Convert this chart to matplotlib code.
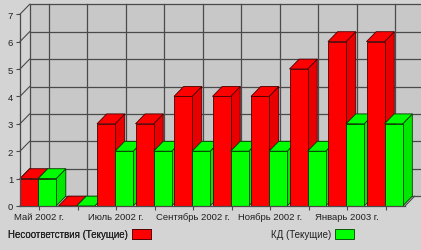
import matplotlib
matplotlib.use("Agg")
import matplotlib.pyplot as plt
from matplotlib.patches import Polygon, Rectangle, Patch

# data
months = ["Май 2002 г.", "Июнь 2002 г.", "Июль 2002 г.", "Август 2002 г.",
          "Сентябрь 2002 г.", "Октябрь 2002 г.", "Ноябрь 2002 г.",
          "Декабрь 2002 г.", "Январь 2003 г.", "Февраль 2003 г."]
nesootv = [1, 0, 3, 3, 4, 4, 4, 5, 6, 6]
kd = [1, 0, 2, 2, 2, 2, 2, 2, 3, 3]
series_names = ["Несоответствия (Текущие)", "КД (Текущие)"]

RED, RED_SIDE, RED_EDGE = "#ff0000", "#e80000", "#4a0000"
GREEN, GREEN_SIDE, GREEN_EDGE = "#00ff00", "#00e800", "#003c00"
BG = "#d4d4d4"
WALL = "#c8c8c8"
GRID = "#4a4a4a"

plt.rcParams['font.family'] = ['Liberation Sans', 'DejaVu Sans']

W, H = 421, 251
fig = plt.figure(figsize=(W / 100, H / 100), dpi=100, facecolor=BG)

# pixel layout of the plotting box
px_left, px_right, px_floor = 20, 405, 207
px_per_x = (px_right - px_left) / len(months)
px_per_y = 27.4
xmax = -0.5 + (W - px_left) / px_per_x
ymax = px_floor / px_per_y
ax = fig.add_axes([px_left / W, (H - px_floor) / H,
                   (W - px_left) / W, px_floor / H])
ax.set_xlim(-0.5, xmax)
ax.set_ylim(0, ymax)
ax.set_facecolor(BG)

dx, dy = 0.25, 0.36   # depth offset of the 3d look
n = len(months)
top = 7

# floor and back wall
ax.add_patch(Polygon([(-0.5, 0), (n - 0.5, 0), (n - 0.5 + dx, dy), (-0.5 + dx, dy)],
                     closed=True, facecolor=WALL, edgecolor="none", zorder=0))
ax.add_patch(Rectangle((-0.5 + dx, dy), xmax + 0.5 - dx, top, facecolor=WALL,
                       edgecolor="none", zorder=0))
for k in range(top + 1):
    ax.plot([-0.5 + dx, xmax], [k + dy, k + dy], color=GRID, lw=0.9, zorder=1)
    ax.plot([-0.5, -0.5 + dx], [k, k + dy], color=GRID, lw=0.8, zorder=1, clip_on=False)
for i in range(n):
    ax.plot([i + dx, i + dx], [dy, top + dy], color=GRID, lw=0.9, zorder=1)
ax.plot([-0.5 + dx, -0.5 + dx], [dy, top + dy], color=GRID, lw=0.9, zorder=1)
ax.plot([n - 0.5, n - 0.5 + dx], [0, dy], color=GRID, lw=0.8, zorder=1)


def bar3d(x0, w, h, face, side, edge, z):
    lw = 0.6
    ax.add_patch(Polygon([(x0 + w, 0), (x0 + w + dx, dy), (x0 + w + dx, h + dy), (x0 + w, h)],
                         closed=True, facecolor=side, edgecolor=edge, lw=lw, zorder=z))
    ax.add_patch(Polygon([(x0, h), (x0 + w, h), (x0 + w + dx, h + dy), (x0 + dx, h + dy)],
                         closed=True, facecolor=face, edgecolor=edge, lw=lw, zorder=z))
    if h > 0:
        ax.add_patch(Rectangle((x0, 0), w, h, facecolor=face, edgecolor=edge,
                               lw=lw, zorder=z))


bw = 0.47
z = 2
for i in range(n):
    bar3d(i - 0.5, bw, nesootv[i], RED, RED_SIDE, RED_EDGE, z)
    z += 1
    bar3d(i - 0.03, bw, kd[i], GREEN, GREEN_SIDE, GREEN_EDGE, z)
    z += 1

# axes, ticks, labels
for s in ["top", "right"]:
    ax.spines[s].set_visible(False)
ax.spines["left"].set_bounds(0, top)
ax.spines["bottom"].set_bounds(-0.5, n - 0.5)
for s in ["left", "bottom"]:
    ax.spines[s].set_color(GRID)
    ax.spines[s].set_linewidth(0.9)
    ax.spines[s].set_zorder(50)
ax.set_yticks(range(top + 1))
ax.set_yticklabels([str(k) for k in range(top + 1)])
ax.set_xticks(range(n))
ax.set_xticklabels([m if i % 2 == 0 else "" for i, m in enumerate(months)])
ax.tick_params(axis="both", direction="out", length=3, width=0.8, color=GRID,
               labelsize=6.8, labelcolor="#202020", pad=2)
ax.tick_params(axis="x", pad=1)

# legend, one entry per side
leg1 = fig.legend(handles=[Patch(facecolor=RED, edgecolor=RED_EDGE, lw=0.6)],
                  labels=[series_names[0]], loc="center left",
                  bbox_to_anchor=(3 / W, 1 - 235 / H), frameon=False,
                  markerfirst=False, fontsize=7, handlelength=2.0,
                  handleheight=1.2, handletextpad=0.4, borderpad=0,
                  labelcolor="#202020")
fig.add_artist(leg1)
fig.legend(handles=[Patch(facecolor=GREEN, edgecolor=GREEN_EDGE, lw=0.6)],
           labels=[series_names[1]], loc="center left",
           bbox_to_anchor=(266 / W, 1 - 235 / H), frameon=False,
           markerfirst=False, fontsize=7, handlelength=2.0,
           handleheight=1.2, handletextpad=0.4, borderpad=0,
           labelcolor="#202020")

fig.savefig("out.png", dpi=100, facecolor=BG)
